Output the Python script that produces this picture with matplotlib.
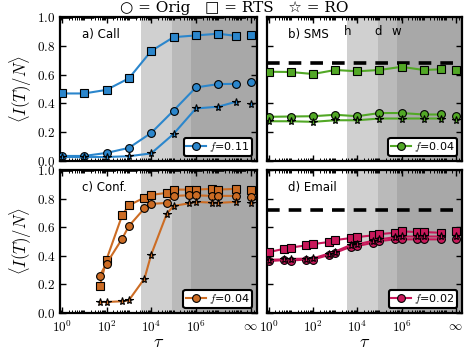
import numpy as np
import matplotlib
matplotlib.use('Agg')
import matplotlib.pyplot as plt
from matplotlib.ticker import FixedLocator, FixedFormatter, LogLocator, NullFormatter

plt.rcParams['mathtext.fontset'] = 'cm'
plt.rcParams['font.family'] = ['DejaVu Sans']

# --- data -------------------------------------------------------------
INF = 2.8e8  # where the "infinity" point sits on the axis

x_ab = [1, 10, 1e2, 1e3, 1e4, 1e5, 1e6, 1e7, 6e7]
x_c = [50, 100, 500, 1e3, 5e3, 1e4, 5e4, 1e5, 5e5, 1e6, 5e6, 1e7, 6e7]
x_d = [1, 5, 10, 50, 100, 500, 1e3, 5e3, 1e4, 5e4, 1e5, 5e5, 1e6, 5e6, 1e7, 6e7]

call_orig = [0.035, 0.035, 0.056, 0.091, 0.195, 0.350, 0.511, 0.534, 0.536]
call_rts = [0.469, 0.469, 0.494, 0.574, 0.764, 0.860, 0.872, 0.884, 0.869]
call_ro = [0.028, 0.027, 0.028, 0.033, 0.053, 0.188, 0.365, 0.377, 0.411]
call_inf = dict(orig=0.548, rts=0.878, ro=0.396)

sms_orig = [0.307, 0.309, 0.311, 0.321, 0.311, 0.333, 0.333, 0.323, 0.323]
sms_rts = [0.620, 0.618, 0.604, 0.632, 0.623, 0.632, 0.654, 0.632, 0.637]
sms_ro = [0.276, 0.276, 0.272, 0.283, 0.283, 0.295, 0.295, 0.295, 0.295]
sms_inf = dict(orig=0.314, rts=0.630, ro=0.283)

conf_orig = [0.262, 0.346, 0.519, 0.608, 0.732, 0.763, 0.770, 0.819, 0.823, 0.823, 0.819, 0.819, 0.819]
conf_rts = [0.187, 0.374, 0.683, 0.753, 0.807, 0.826, 0.840, 0.863, 0.863, 0.863, 0.868, 0.863, 0.868]
conf_ro = [0.077, 0.077, 0.082, 0.089, 0.241, 0.409, 0.695, 0.749, 0.767, 0.777, 0.772, 0.770, 0.777]
conf_inf = dict(orig=0.814, rts=0.860, ro=0.772)

email_orig = [0.363, 0.370, 0.367, 0.374, 0.374, 0.405, 0.421, 0.463, 0.468, 0.491, 0.503, 0.515,
              0.515, 0.515, 0.515, 0.515]
email_rts = [0.426, 0.449, 0.458, 0.473, 0.482, 0.496, 0.510, 0.524, 0.531, 0.543, 0.552, 0.561,
             0.571, 0.566, 0.566, 0.561]
email_ro = [0.372, 0.375, 0.378, 0.380, 0.382, 0.415, 0.430, 0.475, 0.480, 0.505, 0.515, 0.530,
            0.535, 0.535, 0.535, 0.535]
email_inf = dict(orig=0.515, rts=0.571, ro=0.535)

# horizontal dashed reference levels
dash_level = {'a': 1.0, 'b': 0.68, 'c': 1.0, 'd': 0.718}
f_values = {'a': '0.11', 'b': '0.04', 'c': '0.04', 'd': '0.02'}
titles = {'a': 'a) Call', 'b': 'b) SMS', 'c': 'c) Conf.', 'd': 'd) Email'}

# shaded time scales: hour, day, week
t_hour, t_day, t_week = 3600, 86400, 604800

# --- figure -----------------------------------------------------------
W, H = 468, 353
fig = plt.figure(figsize=(W / 100, H / 100), dpi=100)


def px_axes(l, t, r, b):
    return fig.add_axes([l / W, 1 - b / H, (r - l) / W, (b - t) / H])


axes = {
    'a': px_axes(60, 17, 257, 161),
    'b': px_axes(267, 17, 462, 161),
    'c': px_axes(60, 170, 257, 313),
    'd': px_axes(267, 170, 462, 313),
}

panels = {
    'a': (x_ab, call_orig, call_rts, call_ro, call_inf, '#2b86cc'),
    'b': (x_ab, sms_orig, sms_rts, sms_ro, sms_inf, '#52a826'),
    'c': (x_c, conf_orig, conf_rts, conf_ro, conf_inf, '#cc6c24'),
    'd': (x_d, email_orig, email_rts, email_ro, email_inf, '#c8185a'),
}

XMIN, XMAX = 0.83, 5.4e8
MS_O, MS_S, MS_R = 5.6, 5.4, 5.8

for key, ax in axes.items():
    x, orig, rts, ro, inf, col = panels[key]

    ax.axvspan(t_hour, t_day, color='#d0d0d0', lw=0, zorder=0)
    ax.axvspan(t_day, t_week, color='#bababa', lw=0, zorder=0)
    ax.axvspan(t_week, XMAX * 2, color='#a8a8a8', lw=0, zorder=0)

    ax.axhline(dash_level[key], color='k', ls=(0, (3.5, 2.5)), lw=2.6, zorder=2)

    kw = dict(color=col, lw=1.5, mec='k', mew=0.8, mfc=col, zorder=3)
    ax.plot(x, rts, marker='s', ms=MS_S, **kw)
    line_o, = ax.plot(x, orig, marker='o', ms=MS_O, **kw)
    ax.plot(x, ro, marker='*', ms=MS_R, **kw)
    # infinity points, not joined
    pk = dict(ls='none', mec='k', mew=0.8, mfc=col, zorder=3)
    ax.plot([INF], [inf['rts']], marker='s', ms=MS_S, **pk)
    ax.plot([INF], [inf['orig']], marker='o', ms=MS_O, **pk)
    ax.plot([INF], [inf['ro']], marker='*', ms=MS_R, **pk)

    ax.set_xscale('log')
    ax.set_xlim(XMIN, XMAX)
    ax.set_ylim(0, 1)

    ax.xaxis.set_major_locator(FixedLocator([1, 1e2, 1e4, 1e6, INF]))
    ax.xaxis.set_minor_locator(LogLocator(base=10, subs=np.arange(1, 10), numticks=20))
    ax.xaxis.set_minor_formatter(NullFormatter())
    ax.yaxis.set_major_locator(FixedLocator([0, 0.2, 0.4, 0.6, 0.8, 1.0]))

    if key in ('c', 'd'):
        ax.xaxis.set_major_formatter(FixedFormatter(
            [r'$10^{0}$', r'$10^{2}$', r'$10^{4}$', r'$10^{6}$', r'$\infty$']))
        ax.set_xlabel(r'$\tau$', fontsize=13, labelpad=-2)
    else:
        ax.xaxis.set_major_formatter(NullFormatter())
    if key in ('a', 'c'):
        ax.yaxis.set_major_formatter(FixedFormatter(
            [r'$0.0$', r'$0.2$', r'$0.4$', r'$0.6$', r'$0.8$', r'$1.0$']))
        ax.set_ylabel(r'$\langle I(T)/N\rangle$', fontsize=12, labelpad=2)
    else:
        ax.yaxis.set_major_formatter(NullFormatter())

    ax.tick_params(which='both', direction='in', top=True, right=True, labelsize=9.5)
    ax.tick_params(which='major', length=4, width=1)
    ax.tick_params(which='minor', length=2, width=0.7)
    ax.tick_params(axis='x', which='major', pad=5)
    for s in ax.spines.values():
        s.set_linewidth(1.6)

    ax.text(0.11, 0.88, titles[key], transform=ax.transAxes, fontsize=8.5,
            va='center', ha='left', zorder=5)

    leg = ax.legend([line_o], [r'$f$=' + f_values[key]], loc='lower right',
                    fontsize=8, handlelength=1.8, handletextpad=0.3,
                    borderpad=0.2, borderaxespad=0.45, fancybox=True,
                    framealpha=1, edgecolor='k')
    leg.get_frame().set_linewidth(1.5)
    leg.set_zorder(6)

# h / d / w labels in panel b
for t, lab in ((t_hour, 'h'), (t_day, 'd'), (t_week, 'w')):
    axes['b'].text(t, 0.9, lab, fontsize=8.5, ha='center', va='center', zorder=5)

fig.text(0.5, 0.978, '○ = Orig   □ = RTS   ☆ = RO', fontsize=11,
         family=['DejaVu Serif', 'DejaVu Sans', 'Noto Sans CJK SC'],
         ha='center', va='center')

fig.savefig('out.png', dpi=100)
